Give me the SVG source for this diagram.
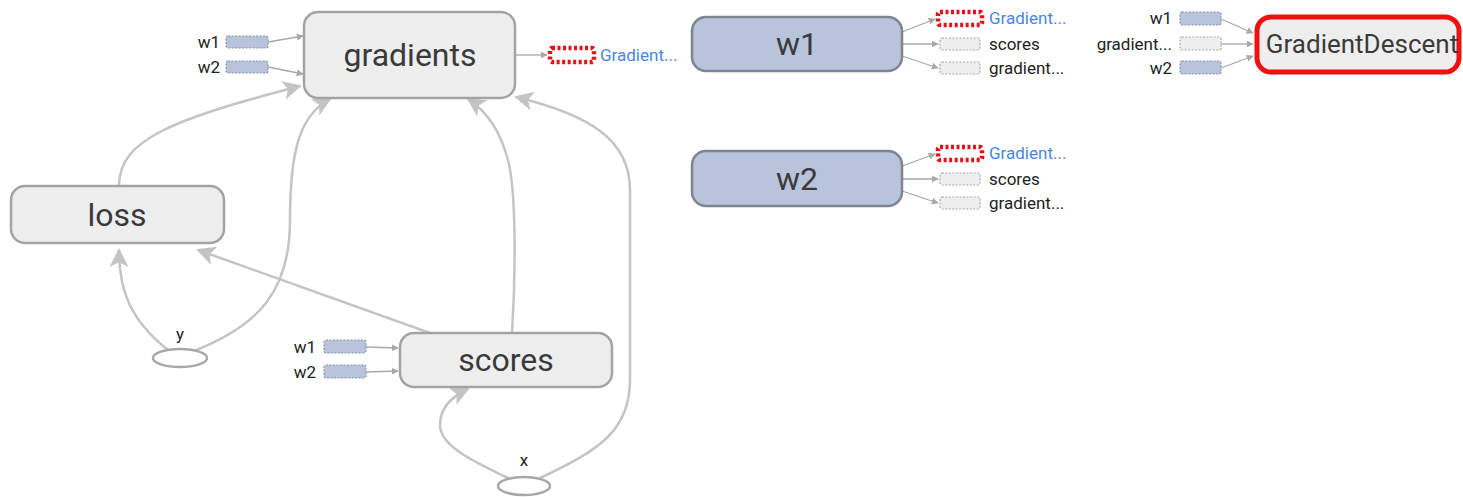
<svg xmlns="http://www.w3.org/2000/svg" width="1463" height="497" viewBox="0 0 1463 497">
<style>
.op{fill:#eeeeee;stroke:#a3a3a3;stroke-width:2.5}
.var{fill:#b8c3dc;stroke:#7d8591;stroke-width:2.5}
.big{font-family:Roboto,"Liberation Sans",sans-serif;font-size:32px;fill:#3a3a3a;text-anchor:middle}
.sm{font-family:Roboto,"Liberation Sans",sans-serif;font-size:17px;fill:#222}
.blue{fill:#4a86e8}
.pv{fill:#b8c3dc;stroke:#8a96ad;stroke-width:1.2;stroke-dasharray:2,1.5}
.pg{fill:#eeeeee;stroke:#aaaaaa;stroke-width:1.2;stroke-dasharray:2,1.5}
.pr{fill:#fff;stroke:#e8111b;stroke-width:4.5;stroke-dasharray:3,2.5}
.thin{fill:none;stroke:#a8a8a8;stroke-width:1.3;marker-end:url(#sa)}
.thick{fill:none;stroke:#c4c4c4;stroke-width:2.5;marker-end:url(#ba)}
.ell{fill:#fff;stroke:#a8a8a8;stroke-width:2.5}
</style>
<defs>
<marker id="sa" viewBox="0 0 10 10" refX="9" refY="5" markerWidth="7" markerHeight="7" markerUnits="userSpaceOnUse" orient="auto"><path d="M0,0 L10,5 L0,10 z" fill="#a8a8a8"/></marker>
<marker id="ba" viewBox="0 0 10 10" refX="9" refY="5" markerWidth="24" markerHeight="19" markerUnits="userSpaceOnUse" orient="auto"><path d="M0,0 L10,5 L0,10 L2.5,5 z" fill="#c4c4c4"/></marker>
</defs>
<g id="connectors">
<path class="thick" d="M119,186 C119,140 170,120 300,86"/>
<path class="thick" d="M168,350 C130,320 119,290 119,250"/>
<path class="thick" d="M194,351 C260,325 290,290 290,220 C290,150 300,115 330,99"/>
<path class="thick" d="M430,333 L198,250"/>
<path class="thick" d="M512,333 C516,270 516,190 508,160 C500,130 485,110 468,99"/>
<path class="thick" d="M508,478 C470,460 440,445 440,425 C440,405 455,395 468,389"/>
<path class="thick" d="M540,478 C600,450 630,430 630,380 L630,190 C630,140 590,115 516,97"/>
<path class="thin" d="M268,42 L303,36"/>
<path class="thin" d="M268,67 L303,74"/>
<path class="thin" d="M516,55 L547,55"/>
<path class="thin" d="M366,347 L398,348"/>
<path class="thin" d="M366,372 L398,371"/>
<path class="thin" d="M902,32 L935,19"/>
<path class="thin" d="M902,44 L938,44"/>
<path class="thin" d="M902,56 L938,68"/>
<path class="thin" d="M902,166 L935,154"/>
<path class="thin" d="M902,179 L938,179"/>
<path class="thin" d="M902,191 L938,203"/>
<path class="thin" d="M1221,19 L1253,33"/>
<path class="thin" d="M1221,44 L1253,44"/>
<path class="thin" d="M1221,68 L1253,56"/>
</g>
<g id="gradients">
<rect class="op" x="304" y="12" width="211" height="86" rx="14"/>
<text class="big" x="410" y="66">gradients</text>
<rect class="pv" x="226" y="36" width="42" height="12" rx="2"/>
<text class="sm" x="220" y="48" text-anchor="end">w1</text>
<rect class="pv" x="226" y="61" width="42" height="12" rx="2"/>
<text class="sm" x="220" y="73" text-anchor="end">w2</text>
<rect class="pr" x="550" y="48" width="44" height="14" rx="2"/>
<text class="sm blue" x="600" y="61">Gradient...</text>
</g>
<g id="w1">
<rect class="var" x="692" y="17" width="210" height="54" rx="14"/>
<text class="big" x="797" y="55">w1</text>
<rect class="pr" x="938" y="12" width="44" height="13" rx="2"/>
<text class="sm blue" x="989" y="24">Gradient...</text>
<rect class="pg" x="940" y="38" width="40" height="12" rx="2"/>
<text class="sm" x="989" y="50">scores</text>
<rect class="pg" x="940" y="62" width="40" height="12" rx="2"/>
<text class="sm" x="989" y="74">gradient...</text>
</g>
<g id="w2">
<rect class="var" x="692" y="151" width="210" height="55" rx="14"/>
<text class="big" x="797" y="190">w2</text>
<rect class="pr" x="938" y="147" width="44" height="13" rx="2"/>
<text class="sm blue" x="989" y="159">Gradient...</text>
<rect class="pg" x="940" y="173" width="40" height="12" rx="2"/>
<text class="sm" x="989" y="185">scores</text>
<rect class="pg" x="940" y="197" width="40" height="12" rx="2"/>
<text class="sm" x="989" y="209">gradient...</text>
</g>
<g id="GradientDescent">
<rect x="1257" y="17" width="202" height="55" rx="14" fill="#eeeeee" stroke="#ee1111" stroke-width="5"/>
<text class="big" x="1362" y="53" style="font-size:26px">GradientDescent</text>
<rect class="pv" x="1180" y="12" width="41" height="13" rx="2"/>
<text class="sm" x="1172" y="24" text-anchor="end">w1</text>
<rect class="pg" x="1180" y="37" width="41" height="13" rx="2"/>
<text class="sm" x="1172" y="50" text-anchor="end">gradient...</text>
<rect class="pv" x="1180" y="61" width="41" height="13" rx="2"/>
<text class="sm" x="1172" y="74" text-anchor="end">w2</text>
</g>
<g id="loss">
<rect class="op" x="11" y="186" width="213" height="57" rx="14"/>
<text class="big" x="117" y="226">loss</text>
</g>
<g id="y">
<ellipse class="ell" cx="180" cy="358" rx="27" ry="9"/>
<text class="sm" x="180" y="340" text-anchor="middle">y</text>
</g>
<g id="scores">
<rect class="op" x="400" y="333" width="212" height="54" rx="14"/>
<text class="big" x="506" y="371">scores</text>
<rect class="pv" x="324" y="340" width="42" height="13" rx="2"/>
<text class="sm" x="316" y="353" text-anchor="end">w1</text>
<rect class="pv" x="324" y="365" width="42" height="13" rx="2"/>
<text class="sm" x="316" y="378" text-anchor="end">w2</text>
</g>
<g id="x">
<ellipse class="ell" cx="524" cy="486" rx="26" ry="9"/>
<text class="sm" x="524" y="466" text-anchor="middle">x</text>
</g>
</svg>
